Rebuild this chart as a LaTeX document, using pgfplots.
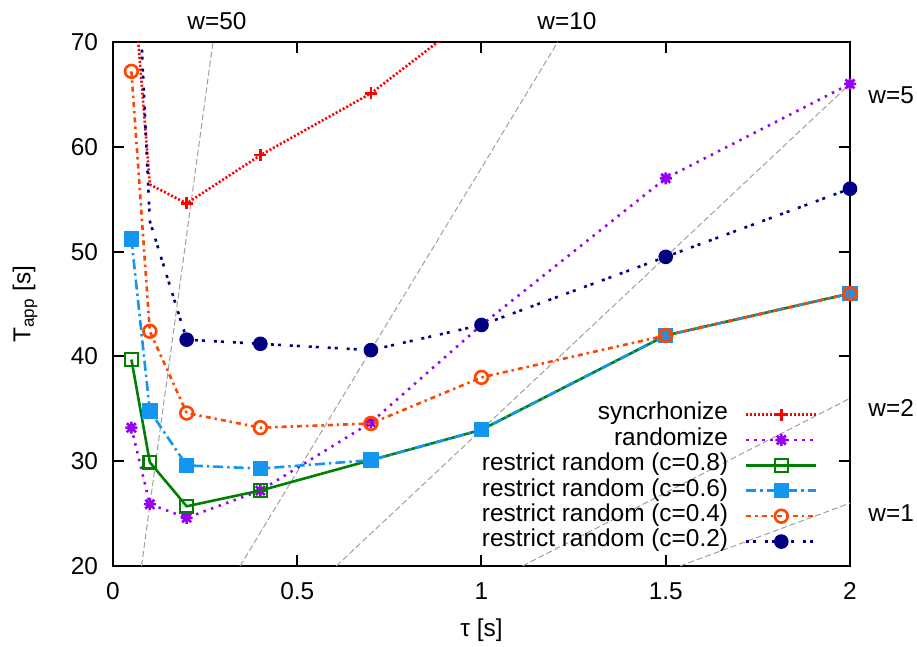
\documentclass[border=0pt]{standalone}
\usepackage{fontspec}
\setmainfont{Liberation Sans}
\usepackage{pgfplots}
\pgfplotsset{compat=1.18}
\definecolor{cred}{RGB}{255,0,0}
\definecolor{cpurple}{RGB}{150,0,240}
\definecolor{cgreen}{RGB}{0,128,0}
\definecolor{cblue}{RGB}{20,150,240}
\definecolor{corange}{RGB}{255,69,0}
\definecolor{cnavy}{RGB}{0,0,128}
\definecolor{cgray}{RGB}{160,160,160}
\pgfdeclareplotmark{gpstar}{%
  \pgfpathmoveto{\pgfqpoint{-\pgfplotmarksize}{0pt}}\pgfpathlineto{\pgfqpoint{\pgfplotmarksize}{0pt}}%
  \pgfpathmoveto{\pgfqpoint{0pt}{-\pgfplotmarksize}}\pgfpathlineto{\pgfqpoint{0pt}{\pgfplotmarksize}}%
  \pgfpathmoveto{\pgfqpoint{-0.75\pgfplotmarksize}{-0.75\pgfplotmarksize}}\pgfpathlineto{\pgfqpoint{0.75\pgfplotmarksize}{0.75\pgfplotmarksize}}%
  \pgfpathmoveto{\pgfqpoint{-0.75\pgfplotmarksize}{0.75\pgfplotmarksize}}\pgfpathlineto{\pgfqpoint{0.75\pgfplotmarksize}{-0.75\pgfplotmarksize}}%
  \pgfusepathqstroke}
\begin{document}
\begin{tikzpicture}[font=\fontsize{12.2}{14}\selectfont]
\begin{axis}[
  scale only axis, width=368.5pt, height=262pt,
  xmin=0, xmax=2, ymin=20, ymax=70,
  xtick={0,0.5,1,1.5,2}, ytick={20,30,40,50,60,70},
  tick align=inside, major tick length=5.5pt,
  axis line style={line width=1pt},
  every tick/.style={black, line width=1pt},
  /pgf/number format/assume math mode=true,
  xticklabel style={yshift=-4.7pt},
  yticklabel style={xshift=-4pt},
  xlabel={τ [s]}, ylabel={T\textsubscript{app} [s]},
  xlabel style={at={(axis description cs:0.5,-0.122)}, anchor=center},
  ylabel style={at={(axis description cs:-0.1194,0.5)}, anchor=center},
  clip mode=individual,
  legend plot pos=right,
  legend cell align=right,
  legend image code/.code={\draw[mark repeat=2,mark phase=2,#1,mark indices={2}] plot coordinates {(0pt,0pt) (17.5pt,0pt) (35pt,0pt)};},
  legend style={draw=none, fill=none, inner sep=0pt, at={(rel axis cs:0.9566,0.0216)}, anchor=south east,
    column sep=4.5pt, row sep=0pt,
    nodes={inner ysep=0pt, inner xsep=4pt, text height=9pt, text depth=3.7pt}},
]
% reference lines T = (5w+8) tau
\addplot[cgray, line width=0.5pt, dash pattern=on 3pt off 1.5pt, forget plot] coordinates {(0.0775,20) (0.2713,70)};
\addplot[cgray, line width=0.5pt, dash pattern=on 3pt off 1.5pt, forget plot] coordinates {(0.3448,20) (1.2069,70)};
\addplot[cgray, line width=0.5pt, dash pattern=on 3pt off 1.5pt, forget plot] coordinates {(0.6061,20) (2,66)};
\addplot[cgray, line width=0.5pt, dash pattern=on 3pt off 1.5pt, forget plot] coordinates {(1.1111,20) (2,36)};
\addplot[cgray, line width=0.5pt, dash pattern=on 3pt off 1.5pt, forget plot] coordinates {(1.5385,20) (2,26)};

\addplot[cred, line width=1.3pt, dash pattern=on 1pt off 1pt, mark=+, mark size=3pt, mark indices={2,3,4,5},
  mark options={solid, line width=1.3pt}]
  coordinates {(0.05,78.1) (0.1,56.4) (0.2,54.6) (0.4,59.2) (0.7,65.1) (1.0,73.2)};
\addlegendentry{syncrhonize}
\addplot[cpurple, line width=1.3pt, dash pattern=on 1.2pt off 2.8pt, mark=gpstar, mark size=3pt,
  mark options={solid, line width=1.3pt}]
  coordinates {(0.05,33.2) (0.1,25.9) (0.2,24.6) (0.4,27.2) (0.7,33.7) (1.0,43.0) (1.5,57.0) (2.0,66.0)};
\addlegendentry{randomize}
\addplot[cgreen, line width=1.3pt, solid, mark=square, mark size=3.2pt, mark options={solid, line width=1.2pt}]
  coordinates {(0.05,39.7) (0.1,29.9) (0.2,25.7) (0.4,27.2) (0.7,30.1) (1.0,33.0) (1.5,42.0) (2.0,46.0)};
\addlegendentry{restrict random (c=0.8)}
\addplot[cblue, line width=1.3pt, dash pattern=on 5pt off 2pt on 1.2pt off 2pt, mark=square*, mark size=3.2pt,
  mark options={solid}]
  coordinates {(0.05,51.2) (0.1,34.8) (0.2,29.6) (0.4,29.3) (0.7,30.1) (1.0,33.0) (1.5,42.0) (2.0,46.0)};
\addlegendentry{restrict random (c=0.6)}
\addplot[corange, line width=1.3pt, dash pattern=on 2.5pt off 2pt on 1.2pt off 2pt, mark=o, mark size=3.2pt,
  mark options={solid, line width=1.3pt}]
  coordinates {(0.05,67.2) (0.1,42.4) (0.2,34.6) (0.4,33.2) (0.7,33.6) (1.0,38.0) (1.5,42.0) (2.0,46.0)};
\addlegendentry{restrict random (c=0.4)}
\addplot[cnavy, line width=1.3pt, dash pattern=on 1.5pt off 2pt on 1.5pt off 4.5pt, mark=*, mark size=3pt,
  mark indices={2,3,4,5,6,7,8}, mark options={solid}]
  coordinates {(0.05,91.0) (0.1,52.9) (0.2,41.6) (0.4,41.2) (0.7,40.6) (1.0,43.0) (1.5,49.5) (2.0,56.0)};
\addlegendentry{restrict random (c=0.2)}

\node[anchor=center] at (axis cs:0.282,71.96) {w=50};
\node[anchor=center] at (axis cs:1.232,71.96) {w=10};
\node[anchor=west, inner sep=0pt] at (axis cs:2.049,64.9) {w=5};
\node[anchor=west, inner sep=0pt] at (axis cs:2.049,35.08) {w=2};
\node[anchor=west, inner sep=0pt] at (axis cs:2.049,25.06) {w=1};

\coordinate (bl) at (rel axis cs:-0.1533,-0.1527);
\coordinate (tr) at (rel axis cs:1.0909,1.0802);
\end{axis}
\pgfresetboundingbox
\path[use as bounding box] (bl) rectangle (tr);
\end{tikzpicture}
\end{document}
